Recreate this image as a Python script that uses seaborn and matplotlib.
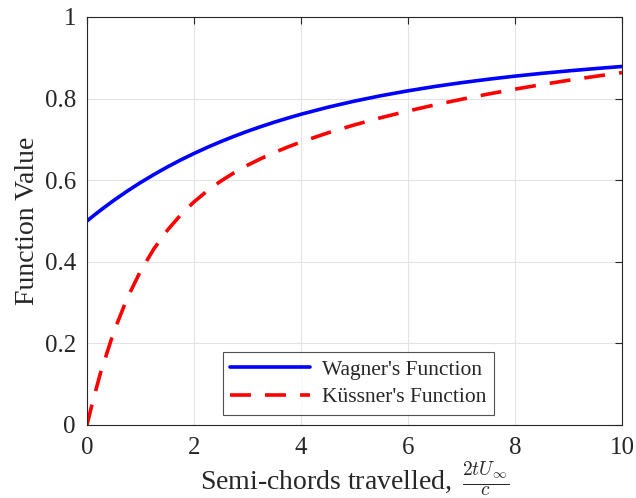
import matplotlib
matplotlib.use("Agg")
import matplotlib.pyplot as plt
import seaborn as sns
import pandas as pd

# Semi-chords travelled (s) and the indicial response values
s_vals = [0, 0.1, 0.25, 0.5, 0.75, 1, 1.25, 1.5, 1.75, 2, 2.25, 2.5, 2.75, 3, 3.25,
          3.5, 3.75, 4, 4.5, 5, 5.5, 6, 6.5, 7, 7.5, 8, 8.5, 9, 9.5, 10]
wagner = [0.5, 0.5107, 0.5261, 0.5504, 0.5730, 0.5942, 0.6138, 0.6323, 0.6495,
          0.6655, 0.6805, 0.6945, 0.7076, 0.7199, 0.7313, 0.7421, 0.7521, 0.7616,
          0.7787, 0.7938, 0.8072, 0.8190, 0.8296, 0.8390, 0.8474, 0.8550, 0.8618,
          0.8679, 0.8735, 0.8787]
kussner = [0.0, 0.0540, 0.1266, 0.2282, 0.3103, 0.3770, 0.4317, 0.4770, 0.5148,
           0.5468, 0.5741, 0.5977, 0.6183, 0.6366, 0.6529, 0.6677, 0.6812, 0.6936,
           0.7159, 0.7356, 0.7534, 0.7696, 0.7845, 0.7983, 0.8111, 0.8231, 0.8343,
           0.8448, 0.8545, 0.8637]

x_ticks = [0, 2, 4, 6, 8, 10]
y_ticks = [0, 0.2, 0.4, 0.6, 0.8, 1]
y_ticklabels = ["0", "0.2", "0.4", "0.6", "0.8", "1"]

sns.set_theme(style="white")
plt.rcParams["font.family"] = ["Liberation Serif", "DejaVu Serif"]
plt.rcParams["mathtext.fontset"] = "cm"

fig = plt.figure(figsize=(6.36, 4.98), dpi=100)
ax = fig.add_axes([0.1368, 0.1466, 0.978 - 0.1368, 0.9659 - 0.1466])

df_w = pd.DataFrame({"s": s_vals, "v": wagner})
df_k = pd.DataFrame({"s": s_vals, "v": kussner})

sns.lineplot(data=df_w, x="s", y="v", ax=ax, color="#0000ff", lw=2.6,
             label="Wagner's Function")
sns.lineplot(data=df_k, x="s", y="v", ax=ax, color="#ff0000", lw=2.6,
             label="Küssner's Function")
ax.lines[1].set_dashes([5.8, 3.9])

ax.set_xlim(0, 10)
ax.set_ylim(0, 1)
ax.set_xticks(x_ticks)
ax.set_yticks(y_ticks)
ax.set_yticklabels(y_ticklabels)
ax.grid(True, color="#e3e3e3", lw=0.8)
ax.tick_params(direction="in", length=5, width=0.8, colors="#262626",
               labelsize=18, top=True, right=True)
ax.tick_params(axis="x", pad=9)
ax.tick_params(axis="y", pad=8)
for sp in ax.spines.values():
    sp.set_color("#262626")
    sp.set_linewidth(0.8)

ax.set_xlabel(r"Semi-chords travelled, $\,\frac{2tU_\infty}{c}$", fontsize=20,
              color="#262626", labelpad=0)
ax.set_ylabel("Function Value", fontsize=20, color="#262626", labelpad=3)

leg = ax.legend(loc="lower center", bbox_to_anchor=(0.507, 0.025), fontsize=15.5,
                frameon=True, fancybox=False, edgecolor="#262626",
                handlelength=3.7, handletextpad=0.55, borderpad=0.35,
                labelspacing=0.35, borderaxespad=0)
leg.get_frame().set_linewidth(0.8)

fig.savefig("out.png", dpi=100)
